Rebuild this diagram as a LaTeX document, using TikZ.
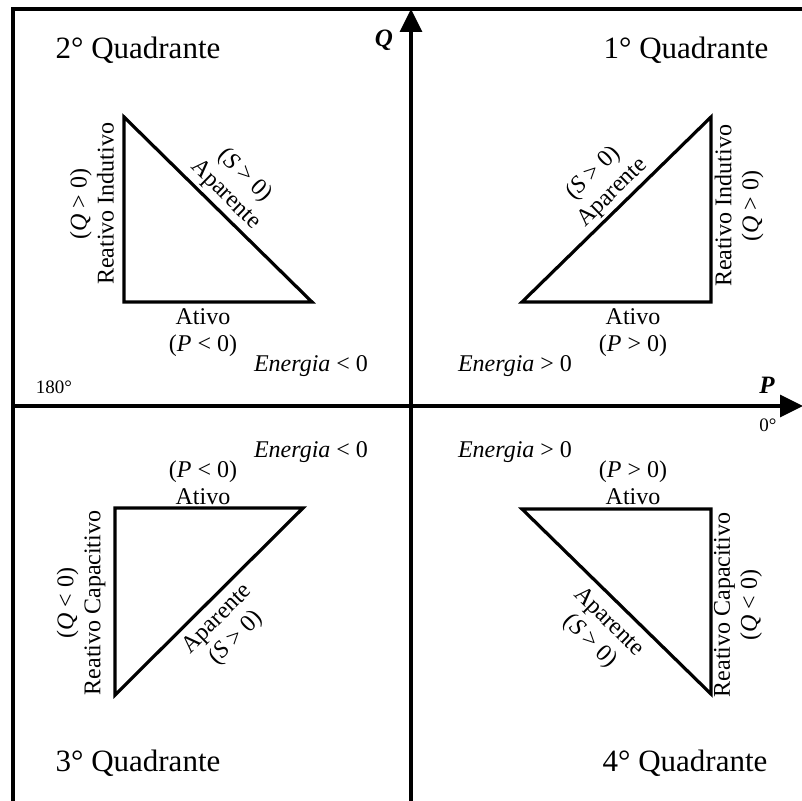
\documentclass[tikz,border=0pt]{standalone}
\usepackage{fontspec}
\setmainfont{Liberation Serif}
\usetikzlibrary{arrows.meta}
\begin{document}
\begin{tikzpicture}[x=1pt,y=-1pt,
  edge/.style={line width=3.2pt, line join=miter},
  quad/.style={font=\fontsize{31}{36}\selectfont, inner sep=0pt},
  lbl/.style={font=\fontsize{24}{27}\selectfont, align=center, inner sep=0pt},
  deg/.style={font=\fontsize{19}{22}\selectfont, inner sep=0pt},
  axlbl/.style={font=\fontsize{25}{28}\selectfont\bfseries\itshape, inner sep=0pt},
  axis/.style={line width=3.2pt, -{Triangle[length=23pt,width=22pt]}}]
\useasboundingbox (0,0) rectangle (802,800);
\clip (0,0) rectangle (802,800);
% frame
\coordinate (f1) at (13,820);
\coordinate (f2) at (13,9);
\coordinate (f3) at (820,9);
\draw[edge] (f1) -- (f2) -- (f3);
% axes
\coordinate (qb) at (411,820);
\coordinate (qt) at (411,9);
\coordinate (pl) at (13,406);
\coordinate (pr) at (803,406);
\draw[axis] (qb) -- (qt);
\draw[axis] (pl) -- (pr);
\node[axlbl] (Qlab) at (384,40) {Q};
\node[axlbl] (Plab) at (767,385) {P};
\node[deg] (d0) at (768,425) {0°};
\node[deg] (d180) at (54,387) {180°};
% quadrant titles
\node[quad] (t1) at (686,50) {1° Quadrante};
\node[quad] (t2) at (138,50) {2° Quadrante};
\node[quad] (t3) at (138,763) {3° Quadrante};
\node[quad] (t4) at (685,763) {4° Quadrante};
% triangle Q1
\coordinate (a1) at (522,302);
\coordinate (b1) at (711,302);
\coordinate (c1) at (711,117);
\draw[edge] (a1) -- (b1) -- (c1) -- cycle;
% triangle Q2
\coordinate (a2) at (124,117);
\coordinate (b2) at (124,302);
\coordinate (c2) at (312,302);
\draw[edge] (a2) -- (b2) -- (c2) -- cycle;
% triangle Q3
\coordinate (a3) at (115,508);
\coordinate (b3) at (303,508);
\coordinate (c3) at (115,695);
\draw[edge] (a3) -- (b3) -- (c3) -- cycle;
% triangle Q4
\coordinate (a4) at (522,509);
\coordinate (b4) at (711,509);
\coordinate (c4) at (711,694);
\draw[edge] (a4) -- (b4) -- (c4) -- cycle;
% labels Q1
\node[lbl, rotate=44.4] (s1) at (603,183) {(\textit{S} > 0)\\Aparente};
\node[lbl, rotate=90] (r1) at (739,206) {Reativo Indutivo\\(\textit{Q} > 0)};
\node[lbl] (p1) at (633,333) {Ativo\\(\textit{P} > 0)};
\node[lbl] (e1) at (515,366) {\textit{Energia} > 0};
% labels Q2
\node[lbl, rotate=-44.5] (s2) at (235,185) {(\textit{S} > 0)\\Aparente};
\node[lbl, rotate=90] (r2) at (92,204) {(\textit{Q} > 0)\\Reativo Indutivo};
\node[lbl] (p2) at (203,333) {Ativo\\(\textit{P} < 0)};
\node[lbl] (e2) at (311,366) {\textit{Energia} < 0};
% labels Q3
\node[lbl, rotate=44.9] (s3) at (227,629) {Aparente\\(\textit{S} > 0)};
\node[lbl, rotate=90] (r3) at (81,603) {(\textit{Q} < 0)\\Reativo Capacitivo};
\node[lbl] (p3) at (203,483) {(\textit{P} < 0)\\Ativo};
\node[lbl] (e3) at (311,452) {\textit{Energia} < 0};
% labels Q4
\node[lbl, rotate=-44.4] (s4) at (599,632) {Aparente\\(\textit{S} > 0)};
\node[lbl, rotate=90] (r4) at (738,605) {Reativo Capacitivo\\(\textit{Q} < 0)};
\node[lbl] (p4) at (633,483) {(\textit{P} > 0)\\Ativo};
\node[lbl] (e4) at (515,452) {\textit{Energia} > 0};
\end{tikzpicture}
\end{document}
